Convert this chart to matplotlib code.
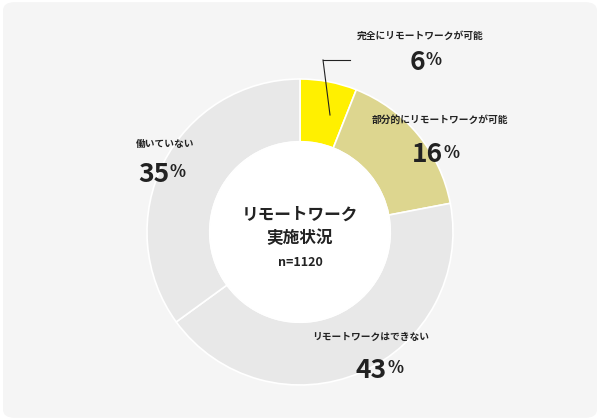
import matplotlib
matplotlib.use("Agg")
from matplotlib import pyplot as plt
from matplotlib.patches import FancyBboxPatch

plt.rcParams["font.family"] = "Noto Sans CJK JP"

labels = ["完全にリモートワークが可能", "部分的にリモートワークが可能", "リモートワークはできない", "働いていない"]
values = [6, 16, 43, 35]
colors = ["#fff000", "#ddd68f", "#e8e8e8", "#e8e8e8"]

W, H = 600, 420
fig = plt.figure(figsize=(6, 4.2), dpi=100)
fig.patch.set_facecolor("white")
bg = FancyBboxPatch((0.005, 0.005), 0.99, 0.99, boxstyle="round,pad=0,rounding_size=0.02",
                    transform=fig.transFigure, facecolor="#f5f5f5", edgecolor="none", zorder=-5)
fig.patches.append(bg)

cx, cy, r = 300, 232, 153
ax = fig.add_axes([(cx - r) / W, (H - cy - r) / H, 2 * r / W, 2 * r / H])
ax.set_zorder(2)
ax.patch.set_alpha(0)
ax.pie(values, colors=colors, startangle=90, counterclock=False,
       wedgeprops=dict(width=0.41, edgecolor="white", linewidth=1.2))
ax.add_patch(plt.Circle((0, 0), 0.59, color="white"))
ax.set_xlim(-1, 1)
ax.set_ylim(-1, 1)
ax.set_aspect("auto")
ax.axis("off")


def t(x, y, s, size, ha="center"):
    fig.text(x / W, 1 - y / H, s, fontsize=size, fontweight="bold", ha=ha, va="center",
             color="#222222", zorder=5)


def pct(x, y, v):
    fig.text(x / W, 1 - y / H, f"{v}", fontsize=19, fontweight="bold", ha="right", va="center",
             color="#222222", zorder=5)
    fig.text(x / W, 1 - y / H + 0.004, "%", fontsize=12, fontweight="bold", ha="left", va="center",
             color="#222222", zorder=5)


t(300, 215, "リモートワーク", 12)
t(300, 238, "実施状況", 12)
t(300, 263, "n=1120", 9)

t(420, 36, labels[0], 7)
pct(425, 62, values[0])
fig.add_artist(plt.Line2D([323 / W, 330 / W], [1 - 60 / H, 1 - 115 / H], color="#222222", lw=0.8, zorder=5))
fig.add_artist(plt.Line2D([323 / W, 350 / W], [1 - 60 / H, 1 - 60 / H], color="#222222", lw=0.8, zorder=5))

t(440, 120, labels[1], 7)
pct(443, 155, values[1])
t(371, 337, labels[2], 7)
pct(387, 370, values[2])
t(165, 144, labels[3], 7)
pct(170, 174, values[3])

fig.savefig("out.png", dpi=100)
